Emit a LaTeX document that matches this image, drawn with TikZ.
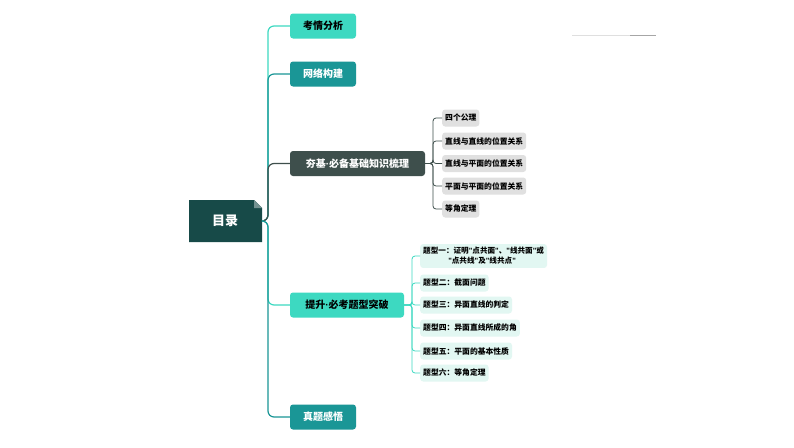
\documentclass[tikz,border=0pt]{standalone}
\usepackage{fontspec}
\setmainfont{Noto Sans CJK SC}
\newfontfamily\latin{Liberation Sans}
\usetikzlibrary{positioning}
\definecolor{mint}{HTML}{3DD9C1}
\definecolor{teal}{HTML}{1A9696}
\definecolor{slate}{HTML}{3E4F4C}
\definecolor{deep}{HTML}{174A48}
\definecolor{pale}{HTML}{E2F7F2}
\definecolor{lgray}{HTML}{E0E0E0}
\newcommand{\dotc}{{\latin\textbf{·}}}
\newcommand{\q}{{\latin\textquotedbl}}
\tikzset{
  topic/.style={rounded corners=3pt, minimum height=25pt, font=\bfseries\fontsize{10}{11}\selectfont, inner xsep=5pt},
  leaf/.style={rounded corners=3pt, anchor=west, font=\bfseries\fontsize{7.8}{9}\selectfont, inner xsep=3pt, minimum height=17pt},
  link/.style={line width=1.2pt, rounded corners=6pt},
  twig/.style={line width=0.8pt}
}
\begin{document}
\begin{tikzpicture}[x=1pt,y=-1pt]
\useasboundingbox[fill=white] (0,0) rectangle (794,447);
% root
\fill[deep] (189,200) -- (254,200) -- (262,208) -- (262,242) -- (189,242) -- cycle;
\fill[deep!60] (254,200) -- (262,208) -- (254,208) -- cycle;
\node[text=white, font=\bfseries\fontsize{13}{14}\selectfont] (root) at (225,221) {目录};
\coordinate (hub) at (262,221);
% main topics
\node[topic, fill=mint, minimum width=66pt] (t1) at (323,26) {考情分析};
\node[topic, fill=teal, text=white, minimum width=66pt] (t2) at (323,74) {网络构建};
\node[topic, fill=slate, text=white, minimum width=135pt] (t3) at (357.5,163.5) {夯基\dotc 必备基础知识梳理};
\node[topic, fill=mint, minimum width=114pt] (t4) at (347,305) {提升\dotc 必考题型突破};
\node[topic, fill=teal, text=white, minimum width=66pt] (t5) at (323,417) {真题感悟};
\draw[link, mint] (hub) -- (268,221) -- (268,26) -- (t1.west);
\draw[link, teal] (hub) -- (268,221) -- (268,74) -- (t2.west);
\draw[link, slate] (hub) -- (268,221) -- (268,163.5) -- (t3.west);
\draw[link, mint] (hub) -- (268,221) -- (268,305) -- (t4.west);
\draw[link, teal] (hub) -- (268,221) -- (268,417) -- (t5.west);
% basics
\foreach \name/\y/\txt in {a1/118/四个公理, a2/141/直线与直线的位置关系, a3/163.5/直线与平面的位置关系, a4/186/平面与平面的位置关系, a5/209/等角定理}{
  \node[leaf, fill=lgray] (\name) at (442,\y) {\txt};
  \draw[twig, slate, rounded corners=3pt] (t3.east) -- (433,163.5) -- (433,\y) -- (\name.west);
}
% question types
\node[leaf, fill=pale, align=left, font=\bfseries\fontsize{7.6}{10}\selectfont] (b1) at (420,256) {题型一：证明\q 点共面\q 、\q 线共面\q 或\\\hspace{3.3em}\q 点共线\q 及\q 线共点\q};
\foreach \name/\y/\txt in {b2/283/题型二：截面问题, b3/305/题型三：异面直线的判定, b4/328/题型四：异面直线所成的角, b5/351/题型五：平面的基本性质, b6/373/题型六：等角定理}{
  \node[leaf, fill=pale] (\name) at (420,\y) {\txt};
}
\foreach \name in {b1,b2,b3,b4,b5,b6}{
  \draw[twig, mint, rounded corners=3pt] (t4.east) -- (412,305) |- (\name.west);
}
% decoration
\draw[gray!25, line width=0.6pt] (572,35) -- (630,35);
\draw[gray!70, line width=0.8pt] (630,35) -- (656,35);
\end{tikzpicture}
\end{document}
